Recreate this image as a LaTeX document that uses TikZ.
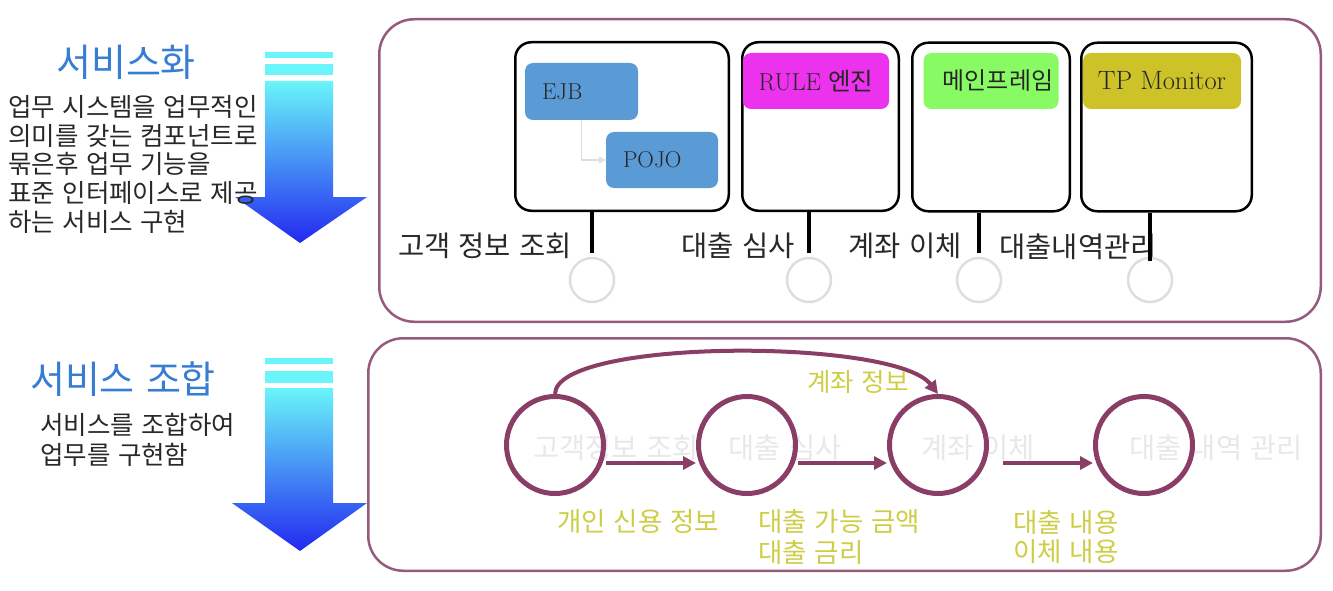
\documentclass[tikz,border=0pt]{standalone}
\usepackage{fontspec}
\newfontfamily\kr{Noto Sans CJK KR}[WordSpace=2]
\newfontfamily\krh{Noto Sans CJK KR}[WordSpace=1.3]
\usetikzlibrary{arrows.meta}
\definecolor{panelc}{RGB}{150,90,125}
\definecolor{ringc}{RGB}{138,62,101}
\definecolor{ejbc}{RGB}{91,155,213}
\definecolor{rulec}{RGB}{236,50,236}
\definecolor{mainc}{RGB}{136,250,100}
\definecolor{tpc}{RGB}{205,195,40}
\definecolor{yelc}{RGB}{205,205,70}
\definecolor{faintc}{RGB}{232,232,232}
\definecolor{lightc}{RGB}{222,222,222}
\definecolor{headc}{RGB}{55,125,210}
\definecolor{darkc}{RGB}{40,40,40}
\definecolor{cyanc}{RGB}{105,245,250}
\definecolor{bluec}{RGB}{35,40,240}
\begin{document}
\begin{tikzpicture}[x=1pt,y=-1pt,
  panel/.style={draw=panelc, line width=2.5pt, rounded corners=35pt, inner sep=0pt},
  compbox/.style={draw=black, line width=2.5pt, rounded corners=16pt, inner sep=0pt},
  tech/.style={rounded corners=8pt, inner sep=0pt, minimum height=56pt, text=black!85, font=\fontsize{23}{26}\selectfont},
  techl/.style={tech, align=left, inner xsep=17pt},
  stemline/.style={line width=4pt, black},
  svc/.style={circle, draw=lightc, line width=2.5pt, minimum size=44pt, inner sep=0pt},
  flowc/.style={circle, draw=ringc, line width=5pt, minimum size=97pt, inner sep=0pt},
  flow/.style={draw=ringc, line width=4pt, -{Triangle[length=13pt,width=13pt]}},
  svclabel/.style={text=darkc, font=\kr\fontsize{28.5}{32}\selectfont, inner sep=0pt},
  faint/.style={text=faintc, font=\kr\fontsize{28.5}{32}\selectfont, inner sep=0pt},
  yel/.style={text=yelc, font=\kr\fontsize{26.5}{30}\selectfont, inner sep=0pt},
  head/.style={text=headc, font=\krh\fontsize{38}{44}\selectfont, inner sep=0pt},
  desc/.style={text=darkc, font=\kr\fontsize{25.5}{29}\selectfont, inner sep=0pt, anchor=west},
  gray connector/.style={draw=lightc, line width=1.5pt, -{Triangle[length=7pt,width=7pt]}}
]
\useasboundingbox (0,0) rectangle (1333,591);

% left arrows
\fill[cyanc] (265,52) rectangle (333,58);
\fill[cyanc] (265,64) rectangle (333,75);
\shade[top color=cyanc, bottom color=bluec] (265,81) -- (333,81) -- (333,197) -- (367,197) -- (300,243) -- (235,197) -- (265,197) -- cycle;
\fill[cyanc] (265,358) rectangle (333,364);
\fill[cyanc] (265,371) rectangle (333,383);
\shade[top color=cyanc, bottom color=bluec] (265,388) -- (333,388) -- (333,503) -- (367,503) -- (300,551) -- (232,503) -- (265,503) -- cycle;

% left texts
\node[head] (h1) at (126,62) {서비스화};
\node[desc] (d1) at (8,107) {업무 시스템을 업무적인};
\node[desc] (d2) at (8,136) {의미를 갖는 컴포넌트로};
\node[desc] (d3) at (8,164) {묶은후 업무 기능을};
\node[desc] (d4) at (8,193) {표준 인터페이스로 제공};
\node[desc] (d5) at (8,222) {하는 서비스 구현};
\node[head] (h2) at (123,379) {서비스 조합};
\node[desc] (e1) at (40,425) {서비스를 조합하여};
\node[desc] (e2) at (40,455) {업무를 구현함};

% panels
\node[panel, minimum width=941.5pt, minimum height=302.5pt] (top) at (850,170.5) {};
\node[panel, minimum width=952.5pt, minimum height=232.5pt] (bot) at (844.5,454.5) {};

% component boxes
\node[compbox, minimum width=213.5pt, minimum height=168.5pt] (box1) at (622,126.5) {};
\node[compbox, minimum width=156.5pt, minimum height=168.5pt] (box2) at (820.5,126.5) {};
\node[compbox, minimum width=157.5pt, minimum height=168.5pt] (box3) at (991,127) {};
\node[compbox, minimum width=170.5pt, minimum height=168.5pt] (box4) at (1166.5,127) {};

\node[techl, fill=ejbc, text width=79pt, minimum height=57pt] (ejb) at (581.5,91.5) {EJB};
\node[techl, fill=ejbc, text width=78pt] (pojo) at (662,160) {POJO};
\node[tech, fill=rulec, minimum width=146pt, font=\fontsize{24.5}{28}\selectfont] (rule) at (816,81) {RULE {\kr 엔진}};
\node[tech, fill=mainc, minimum width=135pt, font=\kr\fontsize{24}{28}\selectfont] (mainf) at (991,81) {\hspace*{14pt}메인프레임};
\node[tech, fill=tpc, minimum width=158pt, font=\fontsize{26.5}{30}\selectfont] (tp) at (1162,81) {TP Monitor};
\draw[gray connector] (ejb.south) |- (pojo.west);

% service labels
\node[svclabel] (l1) at (485,246) {고객 정보 조회};
\node[svclabel] (l2) at (738,246) {대출 심사};
\node[svclabel] (l3) at (905,246) {계좌 이체};
\node[svclabel] (l4) at (1078,247) {대출내역관리};

% service circles and stems
\node[svc] (c1) at (592,280) {};
\node[svc] (c2) at (809,280) {};
\node[svc] (c3) at (979,280) {};
\node[svc] (c4) at (1150,280) {};
\draw[stemline] (box1.south -| c1) -- ([yshift=4pt]c1.north);
\draw[stemline] (box2.south -| c2) -- ([yshift=4pt]c2.north);
\draw[stemline] (box3.south -| c3) -- ([yshift=4pt]c3.north);
\draw[stemline] (box4.south -| c4) -- ([yshift=-4pt]c4.north);

% composition
\node[faint] (f1) at (616,448) {고객정보 조회};
\node[faint] (f2) at (785,448) {대출 심사};
\node[faint] (f3) at (978,448) {계좌 이체};
\node[faint] (f4) at (1216,448) {대출 내역 관리};
\node[flowc] (s1) at (555,445) {};
\node[flowc] (s2) at (747,445) {};
\node[flowc] (s3) at (938,445) {};
\node[flowc] (s4) at (1144,445) {};
\draw[flow] ([yshift=-18pt]s1.east) -- ([yshift=-18pt]s2.west);
\draw[flow] ([yshift=-18pt]s2.east) -- ([yshift=-18pt]s3.west);
\draw[flow] ([xshift=14pt,yshift=-18pt]s3.east) -- ([yshift=-18pt]s4.west);
\draw[flow] (s1.north) .. controls (556,338) and (895,338) .. (s3.north);

\node[yel, font=\kr\fontsize{25.5}{30}\selectfont] (y1) at (858,382) {계좌 정보};
\node[yel] (y2) at (638,522) {개인 신용 정보};
\node[yel, anchor=west] (y3) at (758,522) {대출 가능 금액};
\node[yel, anchor=west] (y4) at (758,553) {대출 금리};
\node[yel, anchor=west] (y5) at (1013,523) {대출 내용};
\node[yel, anchor=west] (y6) at (1013,552) {이체 내용};
\end{tikzpicture}
\end{document}
